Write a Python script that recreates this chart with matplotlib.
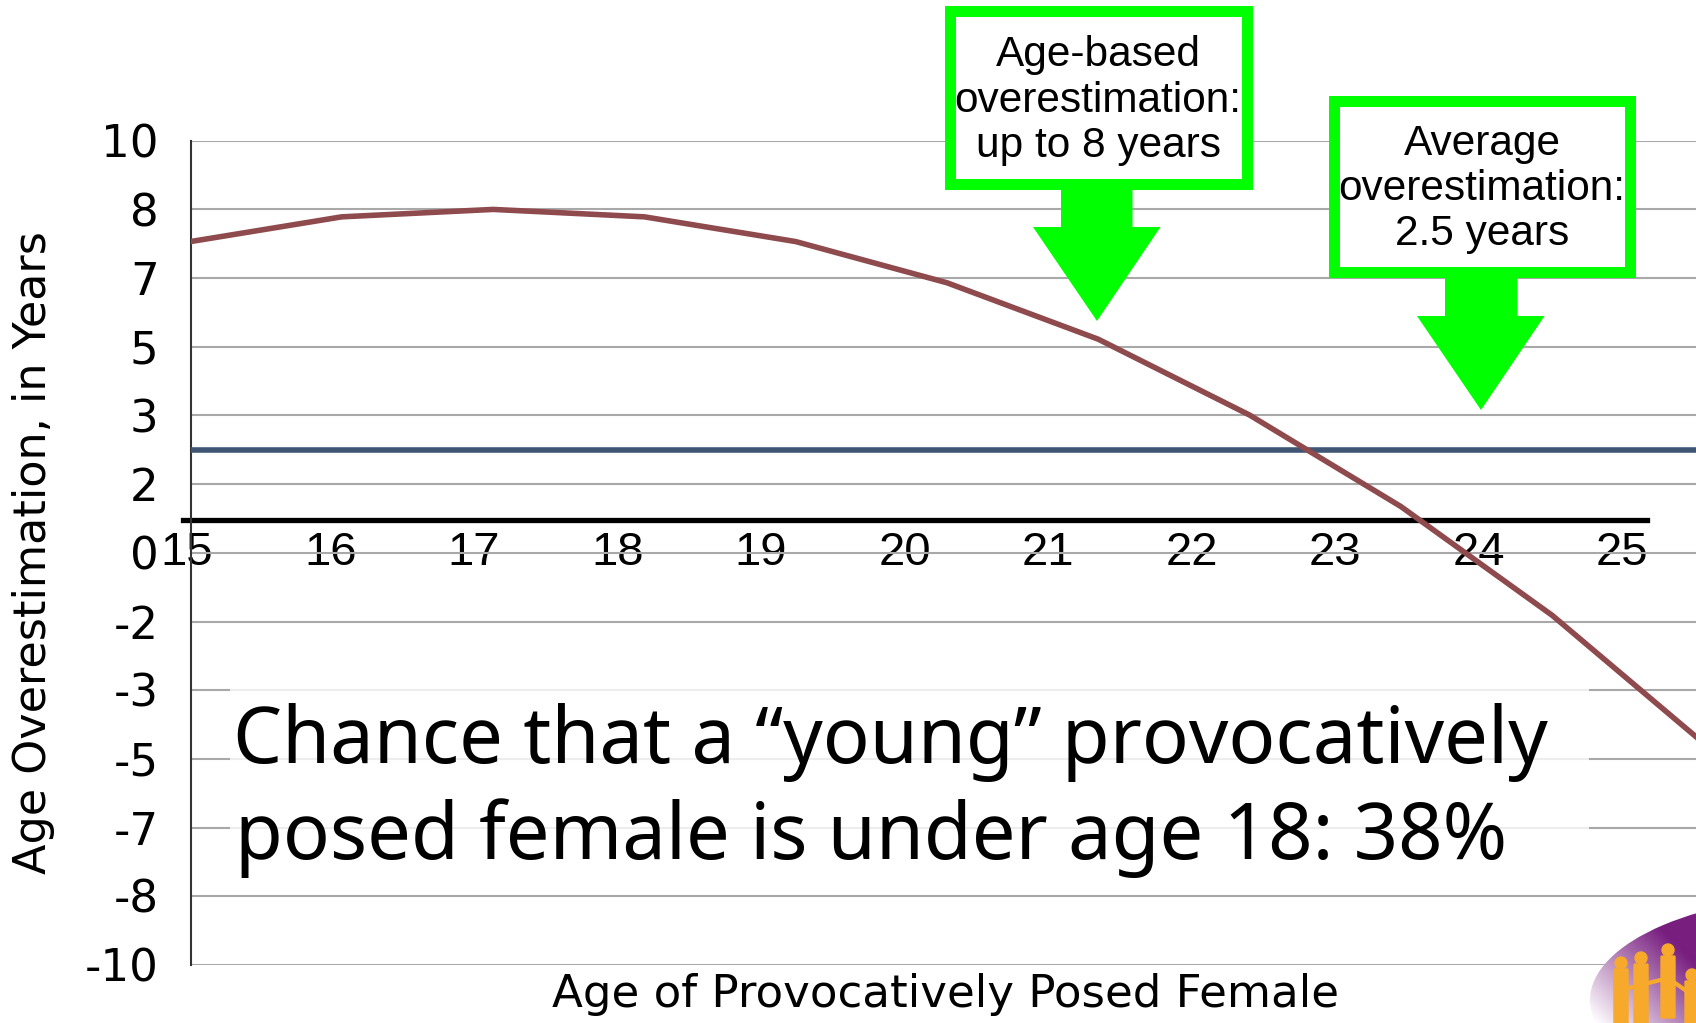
import matplotlib.pyplot as plt
import numpy as np
from matplotlib.patches import Rectangle, Polygon, Ellipse, Circle, FancyBboxPatch
from matplotlib.transforms import Affine2D

# data
ages = [15, 16, 17, 18, 19, 20, 21, 22, 23, 24, 25]
overestimation = [7.55, 8.15, 8.33, 8.15, 7.55, 6.55, 5.18, 3.34, 1.12, -1.52, -4.62]
average_over = 2.5

ytick_vals = [10, 8.33, 6.67, 5, 3.33, 1.67, 0, -1.67, -3.33, -5, -6.67, -8.33, -10]
ytick_labels = ['10', '8', '7', '5', '3', '2', '0', '-2', '-3', '-5', '-7', '-8', '-10']
age_labels = [str(a) for a in ages]

box1_text = "Age-based\noverestimation:\nup to 8 years"
box2_text = "Average\noverestimation:\n2.5 years"
chance_lines = ["Chance that a \u201cyoung\u201d provocatively",
                "posed female is under age 18: 38%"]

W, H = 1696, 1023
fig = plt.figure(figsize=(W / 100, H / 100), dpi=100)
fig.patch.set_facecolor('white')
# pixel coords (origin top left) -> figure
px = Affine2D().scale(1 / W, -1 / H).translate(0, 1) + fig.transFigure


def fbox(x0, y0, x1, y1):
    return [x0 / W, 1 - y1 / H, (x1 - x0) / W, (y1 - y0) / H]


# main plot, runs off the right side like the slide
ax = fig.add_axes(fbox(190.5, 140.6, 1760, 964.8))
ax.set_zorder(2)
ax.patch.set_alpha(0)

ax.plot(ages, overestimation, color='#8E4A4C', lw=4.0, zorder=4,
        solid_joinstyle='miter')
ax.axhline(average_over, color='#3E5573', lw=4.0, zorder=3)

ax.set_xlim(15, 15 + (1760 - 190.5) / 151.3)
ax.set_ylim(-10, 10)
ax.set_xticks([])
ax.set_yticks(ytick_vals)
ax.set_yticklabels(ytick_labels, fontsize=32.5, family='DejaVu Sans')
ax.tick_params(axis='y', length=0, pad=23)
ax.set_axisbelow(True)
ax.yaxis.grid(True, color='#A8A8A8', lw=1.5)
for s in ['top', 'right', 'bottom']:
    ax.spines[s].set_visible(False)
ax.spines['left'].set_color('#333333')
ax.spines['left'].set_linewidth(1.5)

ax.set_ylabel('Age Overestimation, in Years', fontsize=32, family='DejaVu Sans')
ax.yaxis.set_label_coords(-0.0863, 0.5)

# white panel behind the big caption
ax.add_artist(Rectangle((230, 688), 1359, 192, transform=px, facecolor='white',
                        edgecolor='none', alpha=0.8, zorder=1.5))

# category axis (black line with the age labels)
ax2 = fig.add_axes(fbox(183.5, 519.9, 1647.5, 520))
ax2.set_zorder(1)
ax2.patch.set_alpha(0)
ax2.set_xlim(15 - 3.5 / 143.5, 25 + 25.5 / 143.5)
ax2.set_yticks([])
ax2.set_xticks(ages)
ax2.set_xticklabels(age_labels, fontsize=34, family='Liberation Sans')
ax2.tick_params(axis='x', length=0, pad=8)
for s in ['top', 'right', 'left']:
    ax2.spines[s].set_visible(False)
ax2.spines['bottom'].set_linewidth(3.8)
ax2.spines['bottom'].set_color('black')

fig.text(945, 1007, 'Age of Provocatively Posed Female', transform=px,
         ha='center', va='baseline', fontsize=32.5, family='DejaVu Sans')

# big caption
fig.text(233, 763, chance_lines[0], transform=px, ha='left', va='baseline',
         fontsize=56, family='Noto Sans', zorder=5)
fig.text(235, 859, chance_lines[1], transform=px, ha='left', va='baseline',
         fontsize=56, family='Noto Sans', zorder=5)

# green call-out boxes and arrows
lime = '#00FF00'
fig.add_artist(Rectangle((949.5, 11), 297.5, 172.5, transform=px, facecolor='white',
                         edgecolor=lime, lw=7.9, zorder=10))
fig.add_artist(Rectangle((1333.5, 100.5), 296.5, 171, transform=px, facecolor='white',
                         edgecolor=lime, lw=7.9, zorder=10))
fig.text(1098, 100.5, box1_text, transform=px, ha='center', va='center', fontsize=30.5,
         family='Liberation Sans', linespacing=1.17, zorder=11)
fig.text(1482, 189, box2_text, transform=px, ha='center', va='center', fontsize=30.5,
         family='Liberation Sans', linespacing=1.17, zorder=11)

arrow1 = [(1061, 186), (1132.5, 186), (1132.5, 227), (1160.5, 227), (1097, 321),
          (1033, 227), (1061, 227)]
arrow2 = [(1445, 275), (1517.5, 275), (1517.5, 316), (1544.5, 316), (1481, 410),
          (1417, 316), (1445, 316)]
for pts in [arrow1, arrow2]:
    fig.add_artist(Polygon(pts, closed=True, transform=px, facecolor=lime,
                           edgecolor='none', zorder=10))

# logo corner
lax = fig.add_axes(fbox(1585, 900, 1696, 1023))
lax.set_zorder(6)
lax.set_xlim(1585, 1696)
lax.set_ylim(1023, 900)
lax.axis('off')
yy, xx = np.mgrid[900:1023:124j, 1585:1696:112j]
t = np.clip(((xx - 1595) / 100 + (1023 - yy) / 100) / 1.6, 0, 1)
purple = np.array([0.47, 0.12, 0.50])
rgb = (1 - t[..., None]) * np.array([1.0, 1.0, 1.0]) + t[..., None] * purple
im = lax.imshow(rgb, extent=(1585, 1696, 1023, 900), origin='upper', aspect='auto')
ell = Ellipse((1840, 1000), 500, 212, facecolor='none', edgecolor='none')
lax.add_patch(ell)
im.set_clip_path(ell)
orange = '#F6A92B'
for hx, hy in [(1621, 963), (1641, 958), (1668, 950), (1692, 975)]:
    lax.add_patch(Circle((hx, hy), 6, color=orange, zorder=3))
    lax.add_patch(FancyBboxPatch((hx - 6, hy + 7), 12, 60, boxstyle='round,pad=1',
                                 color=orange, zorder=3))
lax.plot([1621, 1641, 1668, 1692], [990, 985, 978, 995], color=orange, lw=3, zorder=3)

fig.savefig('out.png', dpi=100)
